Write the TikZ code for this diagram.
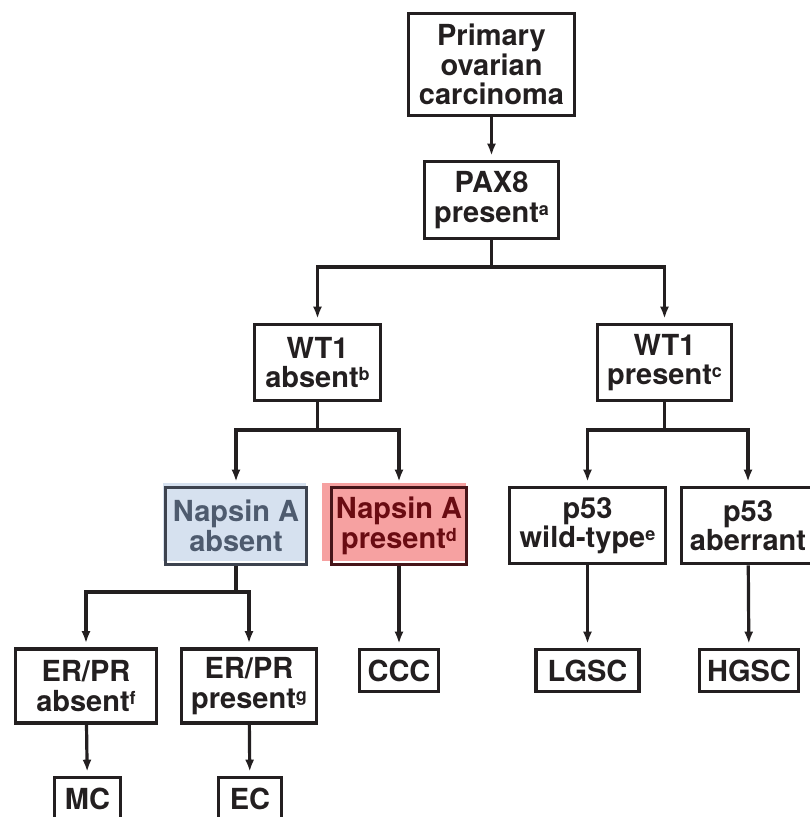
\documentclass[tikz,border=0pt]{standalone}
\usepackage{fontspec}
\setmainfont{TeX Gyre Heros}
\usetikzlibrary{arrows.meta}
\definecolor{ink}{HTML}{231F20}
\definecolor{bluefill}{HTML}{D6E1EF}
\definecolor{bluetext}{HTML}{4E5B6E}
\definecolor{redfill}{HTML}{F6A1A1}
\definecolor{redtext}{HTML}{6A0C12}
\newcommand{\sps}[1]{\raisebox{7pt}{\fontsize{18}{18}\selectfont #1}}
\begin{document}
\begin{tikzpicture}[x=1pt,y=-1pt,
  box/.style={draw=ink,line width=3.6pt,inner sep=0pt,align=center,text=ink,
    font=\fontsize{29}{29.5}\selectfont\bfseries},
  conn/.style={draw=ink,line width=3.2pt},
  arr/.style={conn,-{Latex[length=12pt,width=9pt]},shorten >=4pt}]
\useasboundingbox (0,0) rectangle (809,817);
% fills offset from borders
\fill[bluefill] (163,483) rectangle (306,561);
\fill[redfill] (322,483) rectangle (466,561);
% nodes
\node[box,minimum width=166pt,minimum height=102pt] (top) at (491.5,64.5) {Primary\\ovarian\\carcinoma};
\node[box,minimum width=134pt,minimum height=77pt] (pax) at (491.5,200) {PAX8\\present\sps{a}};
\node[box,minimum width=126pt,minimum height=76pt] (wta) at (317.5,362.5) {WT1\\absent\sps{b}};
\node[box,minimum width=134pt,minimum height=76pt] (wtp) at (664.5,362.5) {WT1\\present\sps{c}};
\node[box,draw=bluetext!60!ink,text=bluetext,minimum width=141pt,minimum height=77pt] (napa) at (236,526) {Napsin A\\absent};
\node[box,draw=redtext!50!ink,text=redtext,minimum width=135pt,minimum height=77pt] (napp) at (399,526) {Napsin A\\present\sps{d}};
\node[box,minimum width=156pt,minimum height=76pt] (pw) at (587.5,525.5) {p53\\wild-type\sps{e}};
\node[box,minimum width=133pt,minimum height=76pt] (pa) at (748,525.5) {p53\\aberrant};
\node[box,minimum width=141pt,minimum height=74pt] (erpa) at (86,686) {ER/PR\\absent\sps{f}};
\node[box,minimum width=135pt,minimum height=74pt] (erpp) at (249,686) {ER/PR\\present\sps{g}};
\node[box,minimum width=79pt,minimum height=42pt] (ccc) at (399,670.5) {CCC};
\node[box,minimum width=103pt,minimum height=42pt] (lgsc) at (587.5,670.5) {LGSC};
\node[box,minimum width=99pt,minimum height=42pt] (hgsc) at (749,670.5) {HGSC};
\node[box,minimum width=66pt,minimum height=42pt] (mc) at (87.5,798.5) {MC};
\node[box,minimum width=63pt,minimum height=42pt] (ec) at (250,798.5) {EC};
% junctions
\coordinate (j1) at (491.5,267);
\coordinate (j2) at (317.5,430);
\coordinate (j3) at (664.5,430);
\coordinate (j4) at (236,592);
% connectors
\draw[arr] (top) -- (pax);
\draw[conn] (pax.south) -- (j1);
\draw[arr] (j1) -| (wta.north);
\draw[arr] (j1) -| (wtp.north);
\draw[conn] (wta.south) -- (j2);
\draw[arr] (j2) -| (napa.north);
\draw[arr] (j2) -| (napp.north);
\draw[conn] (wtp.south) -- (j3);
\draw[arr] (j3) -| (pw.north);
\draw[arr] (j3) -| (pa.north);
\draw[conn] (napa.south) -- (j4);
\draw[arr] (j4) -| (erpa.north);
\draw[arr] (j4) -| (erpp.north);
\draw[arr] (napp) -- (ccc);
\draw[arr] (pw) -- (lgsc);
\draw[arr] (pa) -- (hgsc);
\draw[arr] (erpa) -- (mc);
\draw[arr] (erpp) -- (ec);
\end{tikzpicture}
\end{document}
